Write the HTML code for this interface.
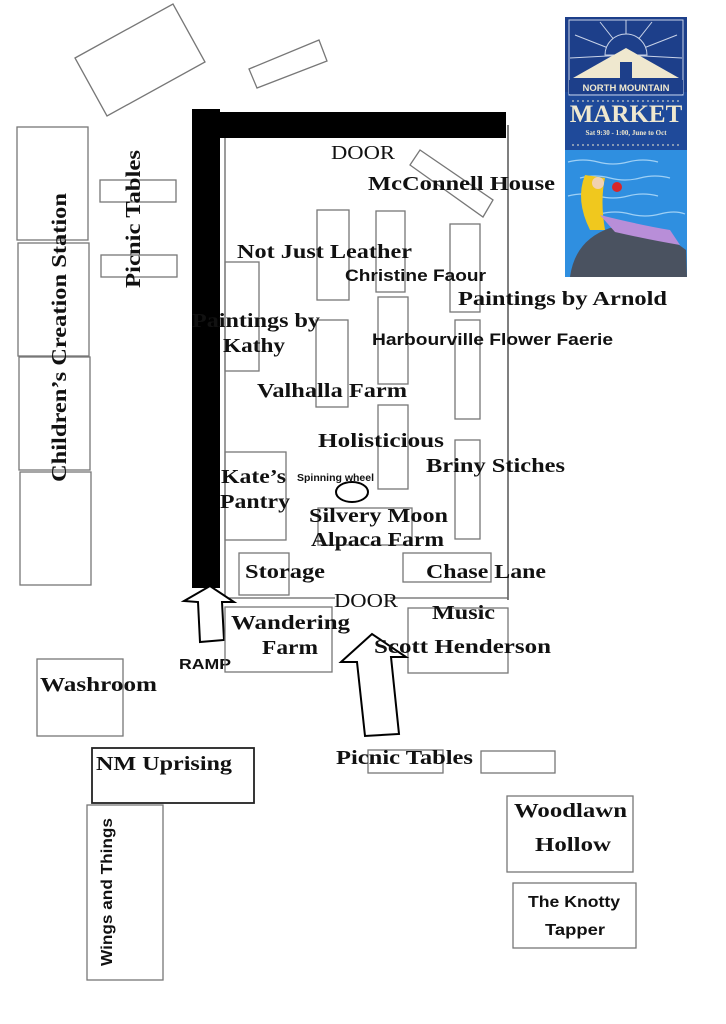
<!DOCTYPE html>
<html><head><meta charset="utf-8"><style>
html,body{margin:0;padding:0;background:#fff;}
svg{display:block}
.s{font-family:"Liberation Serif",serif;font-weight:bold;font-size:20px;fill:#111}
.a{font-family:"Liberation Sans",sans-serif;font-weight:bold;font-size:17px;fill:#111}
.r{fill:none;stroke:#777;stroke-width:1.3}
</style></head><body>
<svg width="726" height="1024" viewBox="0 0 726 1024" xmlns="http://www.w3.org/2000/svg">
<rect width="726" height="1024" fill="#fff"/>
<polygon points="75,58 173,4 205,62 107,116" class="r" stroke="#444"/>
<polygon points="249,69 319,40 327,61 257,88" class="r" stroke="#444"/>
<line x1="225" y1="125" x2="225" y2="598" stroke="#666" stroke-width="1.3"/>
<line x1="508" y1="125" x2="508" y2="600" stroke="#555" stroke-width="1.5"/>
<line x1="220" y1="598" x2="335" y2="598" stroke="#666" stroke-width="1.3"/>
<line x1="390" y1="598" x2="508" y2="598" stroke="#666" stroke-width="1.3"/>
<rect x="192" y="109" width="28" height="479" fill="#000"/>
<rect x="218" y="112" width="288" height="26" fill="#000"/>
<rect x="17" y="127" width="71" height="113" class="r"/>
<rect x="18" y="243" width="71" height="113" class="r"/>
<rect x="19" y="357" width="71" height="113" class="r"/>
<rect x="20" y="472" width="71" height="113" class="r"/>
<text class="s" style="font-size:21px" transform="translate(66,482) rotate(-90)" textLength="289" lengthAdjust="spacingAndGlyphs">Children’s Creation Station</text>
<rect x="100" y="180" width="76" height="22" class="r"/>
<rect x="101" y="255" width="76" height="22" class="r"/>
<text class="s" style="font-size:21px" transform="translate(140,288) rotate(-90)" textLength="138" lengthAdjust="spacingAndGlyphs">Picnic Tables</text>
<polygon points="410,165 420,150 493,200 483,217" class="r" stroke="#444"/>
<rect x="225" y="262" width="34" height="109" class="r"/>
<rect x="317" y="210" width="32" height="90" class="r"/>
<rect x="376" y="211" width="29" height="81" class="r"/>
<rect x="450" y="224" width="30" height="88" class="r"/>
<rect x="316" y="320" width="32" height="87" class="r"/>
<rect x="378" y="297" width="30" height="87" class="r"/>
<rect x="455" y="320" width="25" height="99" class="r"/>
<rect x="378" y="405" width="30" height="84" class="r"/>
<rect x="455" y="440" width="25" height="99" class="r"/>
<rect x="225" y="452" width="61" height="88" class="r"/>
<rect x="318" y="508" width="94" height="37" class="r"/>
<ellipse cx="352" cy="492" rx="16" ry="10" fill="none" stroke="#000" stroke-width="2"/>
<rect x="239" y="553" width="50" height="42" class="r" stroke="#333"/>
<rect x="403" y="553" width="88" height="29" class="r"/>
<text class="s" style="font-weight:normal" x="331" y="159" textLength="64" lengthAdjust="spacingAndGlyphs">DOOR</text>
<text class="s" x="368" y="190" textLength="187" lengthAdjust="spacingAndGlyphs">McConnell House</text>
<text class="s" x="237" y="258" textLength="175" lengthAdjust="spacingAndGlyphs">Not Just Leather</text>
<text class="a" x="345" y="281" textLength="141" lengthAdjust="spacingAndGlyphs">Christine Faour</text>
<text class="s" x="458" y="305" textLength="209" lengthAdjust="spacingAndGlyphs">Paintings by Arnold</text>
<text class="s" x="192" y="327" textLength="128" lengthAdjust="spacingAndGlyphs">Paintings by</text>
<text class="s" x="223" y="352" textLength="62" lengthAdjust="spacingAndGlyphs">Kathy</text>
<text class="a" x="372" y="345" textLength="241" lengthAdjust="spacingAndGlyphs">Harbourville Flower Faerie</text>
<text class="s" x="257" y="397" textLength="150" lengthAdjust="spacingAndGlyphs">Valhalla Farm</text>
<text class="s" x="318" y="447" textLength="126" lengthAdjust="spacingAndGlyphs">Holisticious</text>
<text class="s" x="426" y="472" textLength="139" lengthAdjust="spacingAndGlyphs">Briny Stiches</text>
<text class="s" x="221" y="483" textLength="65" lengthAdjust="spacingAndGlyphs">Kate’s</text>
<text class="s" x="220" y="508" textLength="70" lengthAdjust="spacingAndGlyphs">Pantry</text>
<text class="a" style="font-size:10px" x="297" y="481" textLength="77" lengthAdjust="spacingAndGlyphs">Spinning wheel</text>
<text class="s" x="309" y="522" textLength="139" lengthAdjust="spacingAndGlyphs">Silvery Moon</text>
<text class="s" x="311" y="546" textLength="133" lengthAdjust="spacingAndGlyphs">Alpaca Farm</text>
<text class="s" x="245" y="578" textLength="80" lengthAdjust="spacingAndGlyphs">Storage</text>
<text class="s" x="426" y="578" textLength="120" lengthAdjust="spacingAndGlyphs">Chase Lane</text>
<text class="s" style="font-weight:normal" x="334" y="607" textLength="64" lengthAdjust="spacingAndGlyphs">DOOR</text>
<polygon points="184,601 210,586 234,602 222,602 224,640 200,642 198,602" fill="#fff" stroke="#000" stroke-width="2"/>
<text class="a" style="font-size:15px" x="179" y="669" textLength="52" lengthAdjust="spacingAndGlyphs">RAMP</text>
<rect x="225" y="607" width="107" height="65" class="r"/>
<text class="s" x="231" y="629" textLength="119" lengthAdjust="spacingAndGlyphs">Wandering</text>
<text class="s" x="262" y="654" textLength="56" lengthAdjust="spacingAndGlyphs">Farm</text>
<rect x="408" y="608" width="100" height="65" class="r"/>
<polygon points="341,662 372,634 406,657 391,657 399,734 365,736 357,662" fill="#fff" stroke="#000" stroke-width="2"/>
<text class="s" x="432" y="619" textLength="63" lengthAdjust="spacingAndGlyphs">Music</text>
<text class="s" x="374" y="653" textLength="177" lengthAdjust="spacingAndGlyphs">Scott Henderson</text>
<rect x="37" y="659" width="86" height="77" class="r"/>
<text class="s" x="40" y="691" textLength="117" lengthAdjust="spacingAndGlyphs">Washroom</text>
<rect x="92" y="748" width="162" height="55" fill="none" stroke="#222" stroke-width="1.8"/>
<text class="s" x="96" y="770" textLength="136" lengthAdjust="spacingAndGlyphs">NM Uprising</text>
<rect x="87" y="805" width="76" height="175" class="r"/>
<text class="a" style="font-size:16px" transform="translate(112,966) rotate(-90)" textLength="148" lengthAdjust="spacingAndGlyphs">Wings and Things</text>
<rect x="368" y="750" width="75" height="23" class="r"/>
<rect x="481" y="751" width="74" height="22" class="r"/>
<text class="s" x="336" y="764" textLength="137" lengthAdjust="spacingAndGlyphs">Picnic Tables</text>
<rect x="507" y="796" width="126" height="76" class="r"/>
<text class="s" x="514" y="817" textLength="113" lengthAdjust="spacingAndGlyphs">Woodlawn</text>
<text class="s" x="535" y="851" textLength="76" lengthAdjust="spacingAndGlyphs">Hollow</text>
<rect x="513" y="883" width="123" height="65" class="r"/>
<text class="a" style="font-size:16px" x="528" y="907" textLength="92" lengthAdjust="spacingAndGlyphs">The Knotty</text>
<text class="a" style="font-size:16px" x="545" y="935" textLength="60" lengthAdjust="spacingAndGlyphs">Tapper</text>
<!-- poster -->
<rect x="565" y="17" width="122" height="260" fill="#1f4a9a"/>
<rect x="565" y="17" width="122" height="75" fill="#1d3f8a"/>
<g stroke="#c9d3e8" stroke-width="1" fill="none">
<line x1="626" y1="55" x2="626" y2="20"/><line x1="626" y1="55" x2="600" y2="22"/><line x1="626" y1="55" x2="652" y2="22"/>
<line x1="626" y1="55" x2="575" y2="35"/><line x1="626" y1="55" x2="677" y2="35"/>
<line x1="626" y1="55" x2="570" y2="58"/><line x1="626" y1="55" x2="682" y2="58"/>
<rect x="569" y="20" width="114" height="75"/>
</g>
<path d="M605,55 A21,21 0 0 1 647,55 Z" fill="#1d3f8a" stroke="#c9d3e8"/>
<polygon points="573,78 626,48 679,78" fill="#efe8cf"/>
<rect x="620" y="62" width="12" height="16" fill="#1d3f8a"/>
<rect x="569" y="80" width="114" height="14" fill="#1d3f8a"/>
<text x="626" y="91" text-anchor="middle" font-family="Liberation Sans,sans-serif" font-weight="bold" font-size="9.5" fill="#efe8cf">NORTH MOUNTAIN</text>
<text x="626" y="122" text-anchor="middle" font-family="Liberation Serif,serif" font-weight="bold" font-size="25" fill="#efe8cf">MARKET</text>
<text x="626" y="135" text-anchor="middle" font-family="Liberation Serif,serif" font-weight="bold" font-size="7" fill="#efe8cf">Sat 9:30 - 1:00, June to Oct</text>
<line x1="572" y1="101" x2="680" y2="101" stroke="#efe8cf" stroke-dasharray="2,3"/>
<line x1="572" y1="145" x2="680" y2="145" stroke="#efe8cf" stroke-dasharray="2,3"/>
<rect x="565" y="150" width="122" height="127" fill="#2f8fe0"/>
<g stroke="#9fd0f5" stroke-width="1.2" fill="none">
<path d="M568,162 q15,-4 30,0 t30,0 t30,0"/><path d="M580,178 q15,-4 30,0 t30,0 t30,0"/><path d="M568,196 q15,-4 30,0 t30,0 t30,0"/><path d="M600,214 q15,-4 30,0 t30,0 t25,0"/>
</g>
<path d="M570,277 Q575,240 610,228 Q650,222 686,250 L687,277 Z" fill="#4a5260"/>
<path d="M585,175 Q575,200 590,230 L605,230 Q600,200 605,178 Z" fill="#f0c81e"/>
<circle cx="598" cy="183" r="6" fill="#f1d1b0"/>
<path d="M600,215 Q640,225 670,230 L680,245 Q650,240 615,232 Z" fill="#b88ed8"/>
<circle cx="617" cy="187" r="5" fill="#d8262a"/>
</svg>
</body></html>
